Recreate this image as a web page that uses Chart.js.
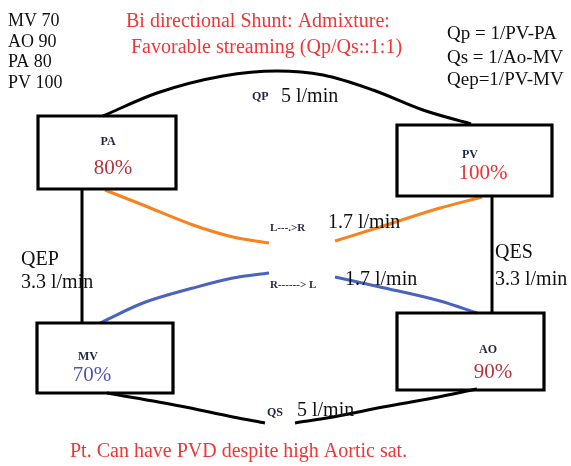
<!DOCTYPE html>
<html>
<head>
<meta charset="utf-8">
<script src="https://cdn.jsdelivr.net/npm/chart.js@4.4.1/dist/chart.umd.min.js"></script>
<style>
html,body{margin:0;padding:0;background:#fff;}
canvas{display:block;}
</style>
</head>
<body>
<canvas id="c" width="571" height="466"></canvas>
<script>
// ---- Diagram data (picture units, 571 x 466, y downward) ----
const boxNames   = ['PA', 'PV', 'MV', 'AO'];
const boxLeft    = [38, 397, 37, 397];
const boxTop     = [116, 125, 323, 313];
const boxRight   = [176, 552, 173, 544];
const boxBottom  = [189, 196, 393, 390];
const boxSat     = ['80%', '100%', '70%', '90%'];

// flows (curves)
const qpX  = [103, 157, 223, 277, 323, 373, 423, 471];
const qpY  = [116, 93, 76, 71, 75, 90, 110, 124];
const qsLeftX  = [107, 180, 233, 265];
const qsLeftY  = [393, 406, 417, 423];
const qsRightX = [295, 333, 383, 433, 477];
const qsRightY = [423, 417, 407, 398, 389];
const qepX = [82, 82];
const qepY = [189, 323];
const qesX = [492, 492];
const qesY = [196, 313];
const lrLeftX  = [105, 143, 193, 233, 269];
const lrLeftY  = [190, 205, 225, 237, 243];
const lrRightX = [335, 380, 440, 482];
const lrRightY = [241, 227, 208, 197];
const rlLeftX  = [100, 143, 193, 233, 269];
const rlLeftY  = [323, 303, 288, 278, 273];
const rlRightX = [335, 380, 440, 477];
const rlRightY = [277, 287, 301, 313];

// text labels
const labelTexts = ['MV 70', 'AO 90', 'PA 80', 'PV 100',
  'Bi directional Shunt: Admixture:', 'Favorable streaming (Qp/Qs::1:1)',
  'Qp = 1/PV-PA', 'Qs = 1/Ao-MV', 'Qep=1/PV-MV',
  'QP', '5 l/min', 'L---.>R', '1.7 l/min', 'R------> L', '1.7 l/min',
  'QEP', '3.3 l/min', 'QES', '3.3 l/min', 'QS', '5 l/min',
  'Pt. Can have PVD despite high Aortic sat.'];
const labelX = [8, 8, 8, 8, 126, 131, 447, 447, 447, 252, 281, 270, 328, 270, 345,
  21, 21, 495, 495, 267, 297, 70];
const labelY = [21, 42, 62, 83, 22, 48, 34, 58, 80, 97, 97, 228, 223, 285, 280,
  260, 283, 253, 280, 413, 411, 452];

// ---- styles ----
const labelStyle = [
  'k18','k18','k18','k18','r20','r20','k19','k19','k19','s12','k20','s11','k20','s11','k20',
  'k20','k20','k20','k20','s12','k20','r20'];
const styleMap = {
  k18: ['18px "Liberation Serif"', '#111'],
  k19: ['19px "Liberation Serif"', '#111'],
  k20: ['20px "Liberation Serif"', '#111'],
  r20: ['20px "Liberation Serif"', '#f03535'],
  s12: ['bold 12px "Liberation Serif"', '#1e2740'],
  s11: ['bold 11px "Liberation Serif"', '#1e2740']
};
const boxNameColor = '#1e2740';
const boxSatColors = ['#b8333b', '#ea3030', '#5252b2', '#b8333b'];
const boxNameY = [142, 155, 357, 350];
const boxNameX = [108, 470, 88, 488];
const boxSatY  = [168, 173, 375, 372];
const boxSatX  = [113, 483, 92, 493];

function pts(xs, ys) { return xs.map((x, i) => ({x: x, y: ys[i]})); }
function lineDs(xs, ys, color, w, tension) {
  return {data: pts(xs, ys), showLine: true, borderColor: color, borderWidth: w,
    pointRadius: 0, tension: tension, cubicInterpolationMode: tension ? 'monotone' : 'default',
    borderCapStyle: 'butt', borderJoinStyle: 'miter', fill: false};
}

const datasets = [];
boxNames.forEach((n, i) => {
  const xs = [boxLeft[i], boxRight[i], boxRight[i], boxLeft[i], boxLeft[i], boxRight[i]];
  const ys = [boxTop[i], boxTop[i], boxBottom[i], boxBottom[i], boxTop[i], boxTop[i]];
  datasets.push(lineDs(xs, ys, '#000', 3.2, 0));
});
datasets.push(lineDs(qpX, qpY, '#000', 3, 0.4));
datasets.push(lineDs(qsLeftX, qsLeftY, '#000', 3, 0.4));
datasets.push(lineDs(qsRightX, qsRightY, '#000', 3, 0.4));
datasets.push(lineDs(qepX, qepY, '#000', 3, 0));
datasets.push(lineDs(qesX, qesY, '#000', 3, 0));
datasets.push(lineDs(lrLeftX, lrLeftY, '#f7821e', 3, 0.4));
datasets.push(lineDs(lrRightX, lrRightY, '#f7821e', 3, 0.4));
datasets.push(lineDs(rlLeftX, rlLeftY, '#4a62c0', 3, 0.4));
datasets.push(lineDs(rlRightX, rlRightY, '#4a62c0', 3, 0.4));

const bgPlugin = {
  id: 'bg',
  beforeDraw(chart) {
    const c = chart.ctx;
    c.save(); c.fillStyle = '#fff'; c.fillRect(0, 0, chart.width, chart.height); c.restore();
  }
};
const textPlugin = {
  id: 'texts',
  afterDatasetsDraw(chart) {
    const c = chart.ctx, sx = chart.scales.x, sy = chart.scales.y;
    c.save();
    c.textBaseline = 'middle';
    c.textAlign = 'left';
    labelTexts.forEach((t, i) => {
      const st = styleMap[labelStyle[i]];
      c.font = st[0]; c.fillStyle = st[1];
      c.fillText(t, sx.getPixelForValue(labelX[i]), sy.getPixelForValue(labelY[i]));
    });
    c.textAlign = 'center';
    boxNames.forEach((n, i) => {
      c.font = 'bold 12px "Liberation Serif"'; c.fillStyle = boxNameColor;
      c.fillText(n, sx.getPixelForValue(boxNameX[i]), sy.getPixelForValue(boxNameY[i]));
      c.font = '21px "Liberation Serif"'; c.fillStyle = boxSatColors[i];
      c.fillText(boxSat[i], sx.getPixelForValue(boxSatX[i]), sy.getPixelForValue(boxSatY[i]));
    });
    c.restore();
  }
};

new Chart(document.getElementById('c'), {
  type: 'scatter',
  data: {datasets: datasets},
  options: {
    responsive: false,
    animation: false,
    events: [],
    layout: {padding: 0},
    plugins: {legend: {display: false}, tooltip: {enabled: false}},
    scales: {
      x: {type: 'linear', min: 0, max: 571, display: false},
      y: {type: 'linear', min: 0, max: 466, reverse: true, display: false}
    }
  },
  plugins: [bgPlugin, textPlugin]
});
</script>
</body>
</html>
